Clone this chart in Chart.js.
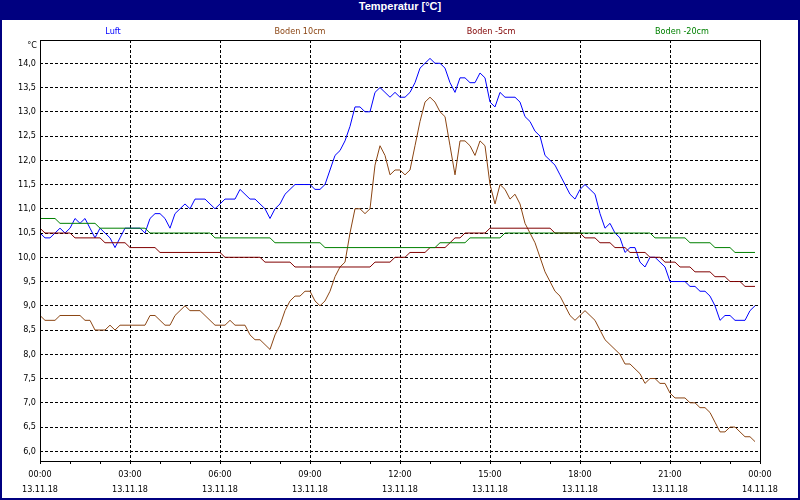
<!DOCTYPE html>
<html>
<head>
<meta charset="utf-8">
<title>Temperatur</title>
<script src="https://cdn.jsdelivr.net/npm/chart.js@4.4.1/dist/chart.umd.min.js"></script>
<style>
  body { margin: 0; background: #fff; }
  #wrap { position: relative; width: 800px; height: 500px; background: #fff; overflow: hidden; }
  #wrap canvas { position: absolute; left: 0; top: 0; }
  .edge { position: absolute; background: #000080; }
  #titlebar {
    position: absolute; left: 0; top: 0; width: 800px; height: 20px;
    background: #000080; color: #fff; text-align: center; line-height: 20px;
    font: bold 11px "Liberation Sans", Arial, sans-serif;
  }
  .legend {
    position: absolute; top: 26px; transform: translateX(-50%); white-space: nowrap;
    font: 9px "DejaVu Sans Condensed", "Liberation Sans", sans-serif;
  }
  #unit {
    position: absolute; right: 763px; top: 40px;
    font: 9px "DejaVu Sans Condensed", "Liberation Sans", sans-serif; color: #000;
  }
</style>
</head>
<body>
<div id="wrap">
  <canvas id="temp-chart" width="800" height="500"></canvas>
  <div id="titlebar">Temperatur [°C]</div>
  <div class="edge" style="left:0;top:0;width:2px;height:500px"></div>
  <div class="edge" style="right:0;top:0;width:2px;height:500px"></div>
  <div class="edge" style="left:0;bottom:0;width:800px;height:2px"></div>
  <div id="unit">°C</div>
</div>
<script>
// Temperaturverlauf 13.11.18, Messwerte alle 10 Minuten (00:00 .. 23:50)

const seriesNames = ['Luft', 'Boden 10cm', 'Boden -5cm', 'Boden -20cm'];

const luft = [
  10.5, 10.4, 10.4, 10.5, 10.6, 10.5, 10.6, 10.8, 10.7, 10.8,
  10.6, 10.4, 10.6, 10.5, 10.4, 10.2, 10.4, 10.6, 10.6, 10.6,
  10.6, 10.5, 10.8, 10.9, 10.9, 10.8, 10.6, 10.9, 11.0, 11.1,
  11.0, 11.2, 11.2, 11.2, 11.1, 11.0, 11.1, 11.2, 11.2, 11.2,
  11.4, 11.3, 11.2, 11.2, 11.1, 11.0, 10.8, 11.0, 11.1, 11.3,
  11.4, 11.5, 11.5, 11.5, 11.5, 11.4, 11.4, 11.5, 11.8, 12.1,
  12.2, 12.4, 12.7, 13.1, 13.1, 13.0, 13.0, 13.4, 13.5, 13.4,
  13.3, 13.4, 13.3, 13.3, 13.4, 13.6, 13.9, 14.0, 14.1, 14.0,
  14.0, 13.9, 13.6, 13.4, 13.7, 13.7, 13.6, 13.6, 13.8, 13.7,
  13.2, 13.1, 13.4, 13.3, 13.3, 13.3, 13.2, 12.9, 12.8, 12.6,
  12.5, 12.1, 12.0, 11.9, 11.7, 11.5, 11.3, 11.2, 11.4, 11.5,
  11.4, 11.3, 10.9, 10.6, 10.7, 10.5, 10.4, 10.1, 10.2, 10.2,
  9.9, 9.8, 10.0, 10.0, 9.9, 9.8, 9.5, 9.5, 9.5, 9.5,
  9.4, 9.4, 9.3, 9.3, 9.2, 9.0, 8.7, 8.8, 8.8, 8.7,
  8.7, 8.7, 8.9, 9.0
];

const boden10 = [
  8.8, 8.7, 8.7, 8.7, 8.8, 8.8, 8.8, 8.8, 8.8, 8.7,
  8.7, 8.5, 8.5, 8.5, 8.6, 8.5, 8.6, 8.6, 8.6, 8.6,
  8.6, 8.6, 8.8, 8.8, 8.7, 8.6, 8.6, 8.8, 8.9, 9.0,
  8.9, 8.9, 8.9, 8.8, 8.7, 8.6, 8.6, 8.6, 8.7, 8.6,
  8.6, 8.6, 8.4, 8.3, 8.3, 8.2, 8.1, 8.4, 8.6, 8.9,
  9.1, 9.2, 9.2, 9.3, 9.3, 9.1, 9.0, 9.1, 9.3, 9.6,
  9.8, 9.9, 10.5, 11.0, 11.0, 10.9, 11.0, 11.9, 12.3, 12.1,
  11.7, 11.8, 11.8, 11.7, 11.8, 12.3, 12.8, 13.2, 13.3, 13.2,
  13.0, 12.9, 12.3, 11.7, 12.4, 12.4, 12.3, 12.1, 12.4, 12.3,
  11.5, 11.1, 11.5, 11.4, 11.2, 11.3, 11.1, 10.7, 10.5, 10.3,
  10.0, 9.7, 9.5, 9.3, 9.2, 9.0, 8.8, 8.7, 8.8, 8.9,
  8.8, 8.7, 8.5, 8.3, 8.2, 8.1, 8.0, 7.8, 7.8, 7.7,
  7.6, 7.4, 7.5, 7.5, 7.4, 7.4, 7.2, 7.1, 7.1, 7.1,
  7.0, 7.0, 6.9, 6.9, 6.8, 6.6, 6.4, 6.4, 6.5, 6.5,
  6.4, 6.3, 6.3, 6.2
];

const boden5 = [
  10.6, 10.5, 10.5, 10.5, 10.5, 10.5, 10.5, 10.4, 10.4, 10.4,
  10.4, 10.4, 10.4, 10.3, 10.3, 10.3, 10.3, 10.3, 10.2, 10.2,
  10.2, 10.2, 10.2, 10.2, 10.1, 10.1, 10.1, 10.1, 10.1, 10.1,
  10.1, 10.1, 10.1, 10.1, 10.1, 10.1, 10.1, 10.0, 10.0, 10.0,
  10.0, 10.0, 10.0, 10.0, 10.0, 9.9, 9.9, 9.9, 9.9, 9.9,
  9.9, 9.8, 9.8, 9.8, 9.8, 9.8, 9.8, 9.8, 9.8, 9.8,
  9.8, 9.8, 9.8, 9.8, 9.8, 9.8, 9.8, 9.9, 9.9, 9.9,
  9.9, 10.0, 10.0, 10.0, 10.1, 10.1, 10.1, 10.1, 10.2, 10.2,
  10.2, 10.2, 10.3, 10.4, 10.4, 10.5, 10.5, 10.5, 10.5, 10.5,
  10.6, 10.6, 10.6, 10.6, 10.6, 10.6, 10.6, 10.6, 10.6, 10.6,
  10.6, 10.6, 10.6, 10.5, 10.5, 10.5, 10.5, 10.5, 10.5, 10.4,
  10.4, 10.4, 10.3, 10.3, 10.3, 10.2, 10.2, 10.2, 10.1, 10.1,
  10.1, 10.1, 10.0, 10.0, 10.0, 9.9, 9.9, 9.9, 9.8, 9.8,
  9.8, 9.7, 9.7, 9.7, 9.7, 9.6, 9.6, 9.6, 9.5, 9.5,
  9.5, 9.4, 9.4, 9.4
];

const boden20 = [
  10.8, 10.8, 10.8, 10.8, 10.7, 10.7, 10.7, 10.7, 10.7, 10.7,
  10.7, 10.7, 10.6, 10.6, 10.6, 10.6, 10.6, 10.6, 10.6, 10.6,
  10.6, 10.6, 10.5, 10.5, 10.5, 10.5, 10.5, 10.5, 10.5, 10.5,
  10.5, 10.5, 10.5, 10.5, 10.5, 10.4, 10.4, 10.4, 10.4, 10.4,
  10.4, 10.4, 10.4, 10.4, 10.4, 10.4, 10.4, 10.3, 10.3, 10.3,
  10.3, 10.3, 10.3, 10.3, 10.3, 10.3, 10.3, 10.2, 10.2, 10.2,
  10.2, 10.2, 10.2, 10.2, 10.2, 10.2, 10.2, 10.2, 10.2, 10.2,
  10.2, 10.2, 10.2, 10.2, 10.2, 10.2, 10.2, 10.2, 10.2, 10.2,
  10.3, 10.3, 10.3, 10.3, 10.3, 10.3, 10.4, 10.4, 10.4, 10.4,
  10.4, 10.4, 10.4, 10.5, 10.5, 10.5, 10.5, 10.5, 10.5, 10.5,
  10.5, 10.5, 10.5, 10.5, 10.5, 10.5, 10.5, 10.5, 10.5, 10.5,
  10.5, 10.5, 10.5, 10.5, 10.5, 10.5, 10.5, 10.5, 10.5, 10.5,
  10.5, 10.5, 10.5, 10.4, 10.4, 10.4, 10.4, 10.4, 10.4, 10.4,
  10.3, 10.3, 10.3, 10.3, 10.3, 10.2, 10.2, 10.2, 10.2, 10.1,
  10.1, 10.1, 10.1, 10.1
];

// x axis: hours since 00:00, labelled every 3 hours
const timeLabels = ['00:00', '03:00', '06:00', '09:00', '12:00', '15:00', '18:00', '21:00', '00:00'];
const dateLabels = ['13.11.18', '13.11.18', '13.11.18', '13.11.18', '13.11.18', '13.11.18', '13.11.18', '13.11.18', '14.11.18'];
const yTicks = [6.0, 6.5, 7.0, 7.5, 8.0, 8.5, 9.0, 9.5, 10.0, 10.5, 11.0, 11.5, 12.0, 12.5, 13.0, 13.5, 14.0];

const STEP_HOURS = 10 / 60;
const seriesColors = ['#0000ff', '#8b4513', '#800000', '#008000'];
const legendCenters = [113, 300, 491, 682];
const FONT = '"DejaVu Sans Condensed", "Liberation Sans", sans-serif';

// legend row above the plot
const wrap = document.getElementById('wrap');
seriesNames.forEach((name, i) => {
    const el = document.createElement('div');
    el.className = 'legend';
    el.style.left = legendCenters[i] + 'px';
    el.style.color = seriesColors[i];
    el.textContent = name;
    wrap.appendChild(el);
});

function toPoints(values) {
    return values.map((v, i) => ({ x: i * STEP_HOURS, y: v }));
}

// solid frame around the plot area
const framePlugin = {
    id: 'frame',
    afterDatasetsDraw(chart) {
        const { ctx, chartArea: a } = chart;
        ctx.save();
        ctx.setLineDash([]);
        ctx.strokeStyle = '#000';
        ctx.lineWidth = 1;
        ctx.strokeRect(a.left + 0.5, a.top + 0.5, a.right - a.left, a.bottom - a.top);
        ctx.restore();
    }
};

const allSeries = [luft, boden10, boden5, boden20];

new Chart(document.getElementById('temp-chart').getContext('2d'), {
    type: 'line',
    data: {
        datasets: allSeries.map((values, i) => ({
            label: seriesNames[i],
            data: toPoints(values),
            borderColor: seriesColors[i],
            borderWidth: 1,
            pointRadius: 0,
            tension: 0,
            fill: false,
            order: allSeries.length - 1 - i
        }))
    },
    options: {
        responsive: false,
        animation: false,
        devicePixelRatio: 1,
        layout: { padding: { top: 40, right: 40, left: 0, bottom: 0 } },
        plugins: {
            legend: { display: false },
            title: { display: false },
            tooltip: { enabled: false }
        },
        scales: {
            x: {
                type: 'linear',
                min: 0,
                max: 24,
                afterBuildTicks: scale => {
                    const ticks = [];
                    for (let h = 0; h <= 24; h++) ticks.push({ value: h });
                    scale.ticks = ticks;
                },
                afterFit: scale => { scale.height = 39; },
                grid: {
                    color: c => (c.tick && c.tick.value % 3 === 0 && c.tick.value > 0 && c.tick.value < 24) ? '#000' : 'rgba(0,0,0,0)',
                    lineWidth: 1,
                    drawTicks: true,
                    tickLength: 3,
                    tickColor: '#000',
                    tickWidth: 1
                },
                border: { display: false, dash: [3, 2] },
                ticks: {
                    autoSkip: false,
                    maxRotation: 0,
                    padding: 3,
                    color: '#000',
                    font: { family: FONT, size: 9, lineHeight: 1.667 },
                    callback: v => (v % 3 === 0 ? [timeLabels[v / 3], dateLabels[v / 3]] : '')
                }
            },
            y: {
                min: 5.8,
                max: 14.48,
                afterBuildTicks: scale => {
                    scale.ticks = yTicks.map(v => ({ value: v }));
                },
                afterFit: scale => { scale.width = 40; },
                grid: { color: '#000', lineWidth: 1, drawTicks: false },
                border: { display: false, dash: [3, 2] },
                ticks: {
                    padding: 4,
                    color: '#000',
                    font: { family: FONT, size: 9 },
                    callback: v => v.toFixed(1).replace('.', ',')
                }
            }
        }
    },
    plugins: [framePlugin]
});
</script>
</body>
</html>
